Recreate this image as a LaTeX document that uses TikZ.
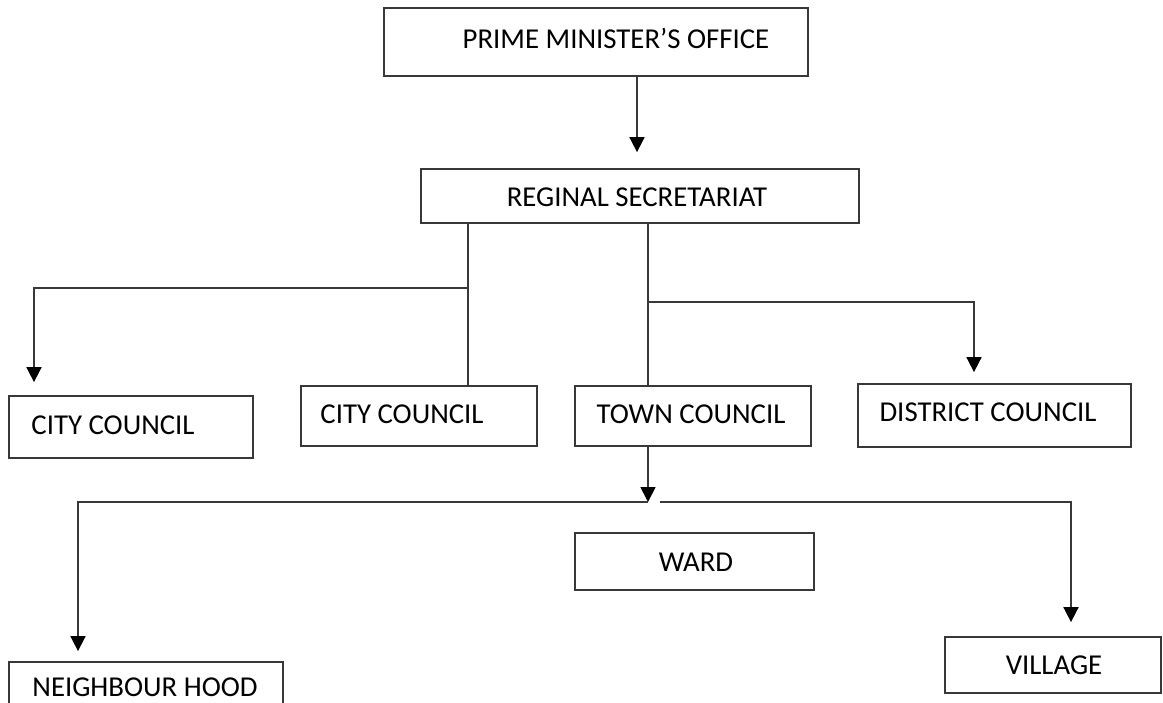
\documentclass[tikz,border=0pt]{standalone}
\usepackage{fontspec}
\setmainfont{Carlito}
\usetikzlibrary{arrows.meta}
\definecolor{ln}{HTML}{383838}
\begin{document}
\begin{tikzpicture}[x=1pt,y=-1pt,
  box/.style={draw=ln, line width=1.8pt, inner sep=0pt, fill=white},
  txt/.style={font=\fontsize{28.8}{30}\selectfont, text=black, inner sep=0pt},
  conn/.style={draw=ln, line width=1.8pt},
  arr/.style={conn, -{Triangle[length=15pt,width=15pt,color=black]}}]
\fill[white] (0,0) rectangle (1163,703);
\useasboundingbox (0,0) rectangle (1163,703);
\clip (0,0) rectangle (1163,703);
% boxes
\node[box, minimum width=424pt, minimum height=68pt] (pmo) at (596,42) {};
\node[box, minimum width=438pt, minimum height=54pt] (rs) at (640,196) {};
\node[box, minimum width=244pt, minimum height=62pt] (cc1) at (131,427) {};
\node[box, minimum width=236pt, minimum height=60pt] (cc2) at (419,416) {};
\node[box, minimum width=236pt, minimum height=60pt] (tc) at (693,416) {};
\node[box, minimum width=273pt, minimum height=63pt] (dc) at (994.5,415.5) {};
\node[box, minimum width=239pt, minimum height=57pt] (ward) at (694.5,561.5) {};
\node[box, minimum width=216pt, minimum height=56pt] (vil) at (1053,665) {};
\node[box, minimum width=274pt, minimum height=60pt] (nh) at (146,692) {};
% texts
\node[txt] (pmot) at (616,38) {PRIME MINISTER’S OFFICE};
\node[txt] (rst) at (637,197) {REGINAL SECRETARIAT};
\node[txt] (cc1t) at (113,425) {CITY COUNCIL};
\node[txt] (cc2t) at (402,414) {CITY COUNCIL};
\node[txt] (tct) at (691,414) {TOWN COUNCIL};
\node[txt] (dct) at (988,412) {DISTRICT COUNCIL};
\node[txt] (wardt) at (696,562) {WARD};
\node[txt] (vilt) at (1054,665) {VILLAGE};
\node[txt] (nht) at (145,687) {NEIGHBOUR HOOD};
% helper coordinates
\coordinate (xp) at (637,0);
\coordinate (xl) at (468,0);
\coordinate (jl) at (468,288);
\coordinate (xa) at (34,0);
\coordinate (xr) at (648,0);
\coordinate (jr) at (648,302);
\coordinate (xd) at (974,0);
\coordinate (jt) at (648,502);
\coordinate (jt2) at (660,502);
\coordinate (xn) at (78,0);
\coordinate (xv) at (1071,0);
% connectors
\draw[arr, shorten >=16pt] (pmo.south -| xp) -- (rs.north -| xp);
\draw[conn] (rs.south -| xl) -- (cc2.north -| xl);
\draw[arr, shorten >=13pt] (jl) -| (cc1.north -| xa);
\draw[conn] (rs.south -| xr) -- (tc.north -| xr);
\draw[arr, shorten >=11pt] (jr) -| (dc.north -| xd);
\draw[arr] (tc.south -| xr) -- (jt);
\draw[arr, shorten >=10pt] (jt) -| (nh.north -| xn);
\draw[arr, shorten >=14pt] (jt2) -| (vil.north -| xv);
\end{tikzpicture}
\end{document}
